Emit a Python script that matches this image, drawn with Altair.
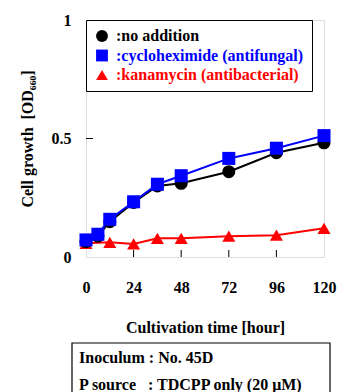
import altair as alt
import pandas as pd

hours = [0, 6, 12, 24, 36, 48, 72, 96, 120]
no_addition = [0.065, 0.088, 0.149, 0.230, 0.300, 0.311, 0.360, 0.440, 0.482]
cycloheximide = [0.072, 0.096, 0.159, 0.233, 0.307, 0.343, 0.416, 0.459, 0.512]
kanamycin_hours = [0, 12, 24, 36, 48, 72, 96, 120]
kanamycin = [0.058, 0.062, 0.055, 0.079, 0.079, 0.088, 0.092, 0.121]

series_names = [":no addition", ":cycloheximide (antifungal)", ":kanamycin (antibacterial)"]
series_colors = ["#000000", "#0000ff", "#ff0000"]
series_shapes = ["circle", "square", "triangle-up"]

x_ticks = [0, 24, 48, 72, 96, 120]
y_ticks = [0, 0.5, 1]
inner_x_ticks = [24, 48, 72, 96]
inner_y_ticks = [0.5]

note_lines = ["Inoculum : No. 45D", "P source\u00a0\u00a0\u00a0: TDCPP only (20 \u03bcM)"]

rows = []
for h, v in zip(kanamycin_hours, kanamycin):
    rows.append({"hour": h, "od": v, "series": series_names[2], "ord": 0})
for h, v in zip(hours, no_addition):
    rows.append({"hour": h, "od": v, "series": series_names[0], "ord": 1})
for h, v in zip(hours, cycloheximide):
    rows.append({"hour": h, "od": v, "series": series_names[1], "ord": 2})
df = pd.DataFrame(rows)

FONT = "Liberation Serif"
W, H = 238, 237

xscale = alt.Scale(domain=[0, 120], nice=False, zero=False)
yscale = alt.Scale(domain=[0, 1], nice=False)

label_color_expr = (
    f"datum.value == '{series_names[1]}' ? '#0000ff' : "
    f"(datum.value == '{series_names[2]}' ? '#ff0000' : '#000000')"
)
legend = alt.Legend(
    title=None, orient="none", legendX=0, legendY=0,
    strokeColor="black", fillColor="white", padding=8,
    labelFont=FONT, labelFontSize=16, labelFontWeight="bold",
    labelColor={"expr": label_color_expr}, labelLimit=400,
    symbolSize=140, symbolStrokeWidth=0, labelOffset=6, rowPadding=3.5,
)

color = alt.Color("series:N", scale=alt.Scale(domain=series_names, range=series_colors), legend=legend)
shape = alt.Shape("series:N", scale=alt.Scale(domain=series_names, range=series_shapes), legend=legend)

xaxis = alt.Axis(values=x_ticks, title="Cultivation time [hour]", tickSize=0, labelPadding=22,
                 labelFont=FONT, labelFontSize=16, labelFontWeight="bold", labelColor="black",
                 titleFont=FONT, titleFontSize=16, titleFontWeight="bold", titleColor="black",
                 titlePadding=24, domain=False, grid=False, labelFlush=False)
yaxis = alt.Axis(values=y_ticks, title="Cell growth\u00a0\u00a0[OD\u2086\u2086\u2080]", tickSize=0, labelPadding=15,
                 labelFont=FONT, labelFontSize=16, labelFontWeight="bold", labelColor="black",
                 titleFont=FONT, titleFontSize=16, titleFontWeight="bold", titleColor="black",
                 titlePadding=16, domain=False, grid=False, labelFlush=False,
                 labelExpr="datum.value == 0.5 ? '0.5' : format(datum.value, 'd')")

base = alt.Chart(df)
lines = base.mark_line(strokeWidth=2).encode(
    x=alt.X("hour:Q", scale=xscale, axis=xaxis),
    y=alt.Y("od:Q", scale=yscale, axis=yaxis),
    color=color,
    detail="series:N",
    order="hour:Q",
)
points = base.mark_point(filled=True, opacity=1, size=170, strokeWidth=0).encode(
    x=alt.X("hour:Q", scale=xscale),
    y=alt.Y("od:Q", scale=yscale),
    color=color,
    shape=shape,
    order="ord:Q",
)

xt = alt.Chart(pd.DataFrame({"t": inner_x_ticks})).mark_rule(color="black", strokeWidth=1).encode(
    x=alt.X("t:Q", scale=xscale), y=alt.value(H - 7), y2=alt.value(H)
)
yt = alt.Chart(pd.DataFrame({"t": inner_y_ticks})).mark_rule(color="black", strokeWidth=1).encode(
    y=alt.Y("t:Q", scale=yscale), x=alt.value(0), x2=alt.value(7)
)

note_df = pd.DataFrame({"k": [0]})
note_box = alt.Chart(note_df).mark_rect(fill="white", stroke="black", strokeWidth=1.2).encode(
    x=alt.value(-14), x2=alt.value(244), y=alt.value(323), y2=alt.value(400)
)
note_text = alt.Chart(note_df).mark_text(
    align="left", baseline="alphabetic", font=FONT, fontSize=16, fontWeight="bold",
    color="black", lineHeight=27
).encode(x=alt.value(-7), y=alt.value(343), text=alt.value(note_lines))

chart = alt.layer(note_box, note_text, xt, yt, lines, points).properties(
    width=W, height=H,
    autosize=alt.AutoSizeParams(type="none"),
    padding={"left": 86, "top": 20, "right": 13, "bottom": 135},
).configure_view(stroke="black", strokeWidth=1.2).configure(
    background="white", font=FONT
).configure_legend(labelFont=FONT, labelFontWeight="bold")

chart.save("out.html", embed_options={"renderer": "svg", "actions": False})
